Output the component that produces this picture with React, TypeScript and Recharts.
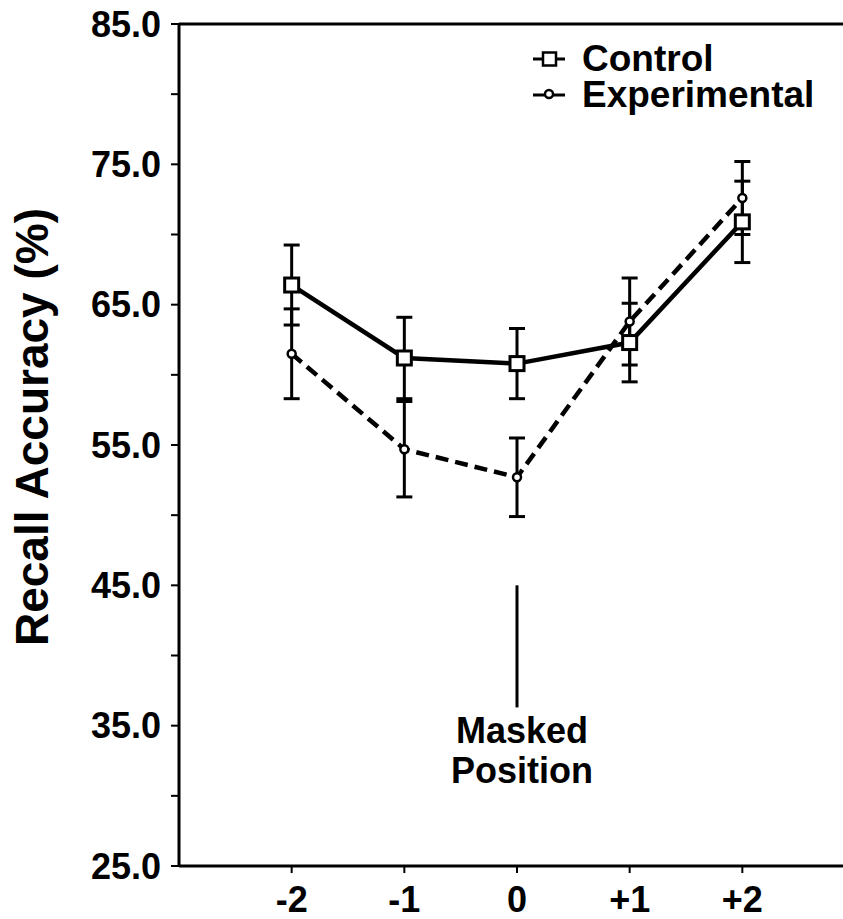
import { ErrorBar, Legend, Line, LineChart, ReferenceLine, XAxis, YAxis } from 'recharts';

const FONT = '"Liberation Sans", Arial, sans-serif';

// serial position relative to the masked item
const positions = [-2, -1, 0, 1, 2];
const controlMean = [66.4, 61.2, 60.8, 62.3, 70.9];
const controlErr = [2.85, 2.9, 2.5, 2.8, 2.9];
const experimentalMean = [61.5, 54.7, 52.7, 63.8, 72.6];
const experimentalErr = [3.2, 3.4, 2.8, 3.1, 2.6];

const yTicks = [25, 30, 35, 40, 45, 50, 55, 60, 65, 70, 75, 80, 85];
const xTicks = [-2, -1, 0, 1, 2];
const maskedSpan = [45, 36.3];

const data = positions.map((pos, i) => ({
  pos,
  control: controlMean[i],
  controlErr: controlErr[i],
  experimental: experimentalMean[i],
  experimentalErr: experimentalErr[i]
}));

const SquareDot = (props: any) => {
  const { cx, cy, index } = props;
  if (cx == null || cy == null) return null;
  return <rect key={`sq-${index}`} x={cx - 7} y={cy - 7} width={14} height={14} fill="#fff" stroke="#000" strokeWidth={3} />;
};

const CircleDot = (props: any) => {
  const { cx, cy, index } = props;
  if (cx == null || cy == null) return null;
  return <circle key={`ci-${index}`} cx={cx} cy={cy} r={4} fill="#fff" stroke="#000" strokeWidth={2.5} />;
};

function LegendBox() {
  const rows = [
    { name: 'Control', square: true },
    { name: 'Experimental', square: false }
  ];
  return (
    <div style={{ fontFamily: FONT, fontWeight: 'bold', fontSize: 37, lineHeight: '36px', color: '#000' }}>
      {rows.map((r) => (
        <div key={r.name} style={{ display: 'flex', alignItems: 'flex-start', height: 36 }}>
          <svg width={34} height={36} style={{ flex: 'none' }}>
            <line x1={0} y1={18} x2={32} y2={18} stroke="#000" strokeWidth={3} />
            {r.square ? (
              <rect x={10} y={11.5} width={13} height={13} fill="#fff" stroke="#000" strokeWidth={2.5} />
            ) : (
              <circle cx={16} cy={17} r={4} fill="#fff" stroke="#000" strokeWidth={2.5} />
            )}
          </svg>
          <span style={{ marginLeft: 15, whiteSpace: 'nowrap' }}>{r.name}</span>
        </div>
      ))}
    </div>
  );
}

const MaskedLabel = (props: any) => {
  const { viewBox } = props;
  if (!viewBox) return null;
  const x = viewBox.x + 5;
  const bottom = viewBox.y + viewBox.height;
  return (
    <g fontFamily={FONT} fontWeight="bold" fontSize={36} fill="#000">
      <text x={x} y={bottom + 36} textAnchor="middle">Masked</text>
      <text x={x} y={bottom + 76} textAnchor="middle">Position</text>
    </g>
  );
};

const YLabel = () => (
  <text x={48} y={427} transform="rotate(-90, 48, 427)" textAnchor="middle" fontFamily={FONT} fontWeight="bold" fontSize={46} fill="#000">
    Recall Accuracy (%)
  </text>
);

export default function App() {
  return (
    <div style={{ position: 'absolute', left: 0, top: 0, width: 843, height: 919, overflow: 'hidden', background: '#fff' }}>
      <LineChart width={880} height={919} data={data} margin={{ top: 24, right: 25, bottom: 0, left: 0 }}>
        <XAxis
          dataKey="pos"
          type="number"
          domain={[-3, 3]}
          ticks={xTicks}
          interval={0}
          allowDataOverflow
          height={53}
          tickSize={7}
          tickMargin={13}
          tickFormatter={(v: number) => (v > 0 ? `+${v}` : `${v}`)}
          axisLine={{ stroke: '#000', strokeWidth: 3 }}
          tickLine={{ stroke: '#000', strokeWidth: 2 }}
          tick={{ fill: '#000', fontFamily: FONT, fontWeight: 'bold', fontSize: 36 }}
        />
        <YAxis
          type="number"
          domain={[25, 85]}
          ticks={yTicks}
          interval={0}
          allowDataOverflow
          width={179}
          tickSize={8}
          tickMargin={10}
          tickFormatter={(v: number) => (v % 10 === 5 ? v.toFixed(1) : '')}
          axisLine={{ stroke: '#000', strokeWidth: 3 }}
          tickLine={{ stroke: '#000', strokeWidth: 2 }}
          tick={{ fill: '#000', fontFamily: FONT, fontWeight: 'bold', fontSize: 36 }}
          label={{ content: <YLabel /> }}
        />
        <ReferenceLine y={85} stroke="#000" strokeWidth={3} />
        <ReferenceLine
          segment={[{ x: 0, y: maskedSpan[0] }, { x: 0, y: maskedSpan[1] }]}
          stroke="#000"
          strokeWidth={3}
          label={<MaskedLabel />}
        />
        <Legend
          layout="horizontal"
          verticalAlign="middle"
          align="center"
          content={<LegendBox />}
          wrapperStyle={{ left: 533, top: 41, width: 310 }}
        />
        <Line
          dataKey="experimental"
          stroke="#000"
          strokeWidth={4.5}
          strokeDasharray="13 7"
          dot={<CircleDot />}
          activeDot={false}
          isAnimationActive={false}
        >
          <ErrorBar dataKey="experimentalErr" direction="y" width={8} stroke="#000" strokeWidth={3} isAnimationActive={false} />
        </Line>
        <Line
          dataKey="control"
          stroke="#000"
          strokeWidth={4.5}
          dot={<SquareDot />}
          activeDot={false}
          isAnimationActive={false}
        >
          <ErrorBar dataKey="controlErr" direction="y" width={8} stroke="#000" strokeWidth={3} isAnimationActive={false} />
        </Line>
      </LineChart>
    </div>
  );
}
